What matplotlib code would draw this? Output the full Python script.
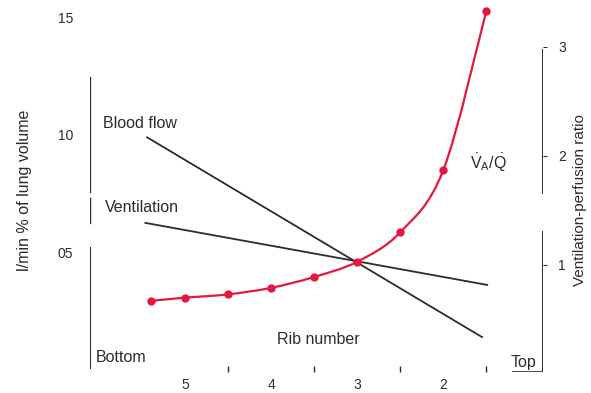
import numpy as np
import matplotlib
matplotlib.use('Agg')
import matplotlib.pyplot as plt
from matplotlib.path import Path
from matplotlib.patches import PathPatch

plt.rcParams['font.family'] = ['Liberation Sans', 'DejaVu Sans']
plt.rcParams['mathtext.fontset'] = 'custom'
plt.rcParams['mathtext.rm'] = 'Liberation Sans'

# Rib positions (bottom of lung -> top) and the values along them
ribs = [5.4, 5.0, 4.5, 4.0, 3.5, 3.0, 2.5, 2.0, 1.5]
vaq_ratio = [0.67, 0.70, 0.73, 0.79, 0.89, 1.03, 1.30, 1.87, 3.33]

flow_ribs = [5.44, 1.55]
blood_flow = [0.099, 0.014]
vent_ribs = [5.46, 1.49]
ventilation = [0.0626, 0.0362]

rib_ticks = [5, 4, 3, 2]
rib_minor = [5, 4.5, 3.5, 3, 2.5, 1.5]
left_ticks = [0.05, 0.10, 0.15]
left_labels = ['05', '10', '15']
right_ticks = [1, 2, 3]


def smooth_path(xs, ys):
    # Catmull-Rom through the points, written as cubic Bezier segments
    p = np.column_stack([xs, ys]).astype(float)
    verts = [p[0]]
    codes = [Path.MOVETO]
    for i in range(len(p) - 1):
        p0 = p[i - 1] if i > 0 else p[i]
        p3 = p[i + 2] if i + 2 < len(p) else p[i + 1]
        c1 = p[i] + (p[i + 1] - p0) / 6
        c2 = p[i + 1] - (p3 - p[i]) / 6
        verts += [c1, c2, p[i + 1]]
        codes += [Path.CURVE4] * 3
    return Path(verts, codes)


W, H = 591, 393
fig = plt.figure(figsize=(W/100, H/100), dpi=100)
ax = fig.add_axes([90/W, 1-372/H, 453/W, 367/H])
ax2 = ax.twinx()

ink = '#2b2b2b'
red = '#e5173f'

ax.plot(flow_ribs, blood_flow, color=ink, lw=1.3)
ax.plot(vent_ribs, ventilation, color=ink, lw=1.3)
ax2.add_patch(PathPatch(smooth_path(ribs, vaq_ratio), fill=False, edgecolor=red, lw=1.6, zorder=5))
ax2.plot(ribs, vaq_ratio, ls='none', color=red, marker='o', ms=5, zorder=6)

ax.set_xlim(6.103, 0.842)
ax.set_ylim(-0.00085, 0.1553)
ax2.set_ylim(0.018, 3.385)

for a in (ax, ax2):
    for s in a.spines.values():
        s.set_visible(False)

# broken axis lines drawn by hand
ax.axvline(ax.get_xlim()[0], 0.490, 0.801, color=ink, lw=1.6)
ax.axvline(ax.get_xlim()[0], 0.406, 0.474, color=ink, lw=1.0)
ax.axvline(ax.get_xlim()[0], 0.011, 0.338, color=ink, lw=1.5)
ax.axvline(ax.get_xlim()[1], 0.488, 0.877, color=ink, lw=1.4)
ax.axvline(ax.get_xlim()[1], 0.0, 0.381, color=ink, lw=1.4)
ax.axhline(ax.get_ylim()[0], 0.934, 1.0, color=ink, lw=1.2)

ax.set_xticks(rib_ticks)
ax.set_xticks(rib_minor, minor=True)
ax.tick_params(axis='x', which='major', length=0, pad=4, labelsize=10, colors=ink)
ax.tick_params(axis='x', which='minor', direction='in', length=4, width=1, colors=ink)

ax.set_yticks(left_ticks)
ax.set_yticklabels(left_labels)
ax.tick_params(axis='y', length=0, pad=12, labelsize=10, colors=ink)

ax2.set_yticks(right_ticks)
ax2.tick_params(axis='y', length=3, direction='out', pad=8, labelsize=10, colors=ink)

fs = 11.5
fig.text(103/W, 1-123/H, 'Blood flow', fontsize=fs, va='center', color=ink)
fig.text(105/W, 1-207/H, 'Ventilation', fontsize=fs, va='center', color=ink)
fig.text(96/W, 1-358/H, 'Bottom', fontsize=fs, va='center', color=ink)
fig.text(511/W, 1-362/H, 'Top', fontsize=fs, va='center', color=ink)
fig.text(318/W, 1-340/H, 'Rib number', fontsize=fs, va='center', ha='center', color=ink)
fig.text(470/W, 1-163/H, r'$\mathrm{\dot{V}_A/\dot{Q}}$', fontsize=fs, va='center', color=ink)

fig.text(25/W, 1-190/H, 'l/min % of lung volume', fontsize=fs, rotation=90,
         va='center', ha='center', color=ink)
fig.text(580/W, 1-200/H, 'Ventilation-perfusion ratio', fontsize=11, rotation=90,
         va='center', ha='center', color=ink)

fig.savefig('out.png', dpi=100)
